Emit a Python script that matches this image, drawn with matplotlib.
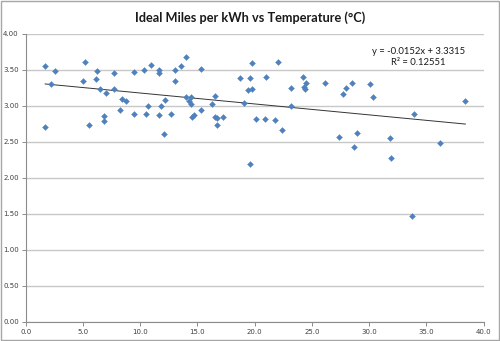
import matplotlib
matplotlib.use("Agg")
import matplotlib.pyplot as plt
from matplotlib.patches import Rectangle
import numpy as np

# temperature (deg C) and ideal miles per kWh for each trip
temps = [1.7, 2.6, 2.2, 1.7, 5.2, 5.0, 5.5, 6.2, 6.1, 6.5, 7.0, 6.8, 6.8,
         7.7, 7.7, 8.4, 8.8, 8.2, 9.5, 9.5, 10.3, 10.9, 11.6, 11.6, 10.5,
         10.7, 11.6, 11.8, 12.2, 12.1, 12.7, 13.0, 13.0, 13.6, 14.0, 14.0,
         14.4, 14.3, 14.4, 14.5, 14.7, 15.3, 15.3, 16.5, 16.3, 16.5, 16.7,
         16.7, 17.2, 18.7, 19.6, 19.8, 19.4, 19.8, 19.1, 20.1, 19.6, 22.0,
         21.0, 20.9, 21.8, 22.4, 23.2, 23.2, 24.2, 24.5, 24.3, 24.4, 26.1,
         27.7, 28.0, 28.5, 30.1, 30.3, 27.4, 28.9, 28.7, 31.8, 31.9, 33.9,
         36.2, 38.4, 33.7]
miles_per_kwh = [3.55, 3.48, 3.30, 2.71, 3.61, 3.34, 2.73, 3.49, 3.37, 3.24,
                 3.18, 2.86, 2.79, 3.46, 3.24, 3.10, 3.07, 2.95, 3.47, 2.89,
                 3.50, 3.57, 3.50, 3.46, 2.89, 3.00, 2.87, 3.00, 3.08, 2.61,
                 2.89, 3.50, 3.35, 3.56, 3.68, 3.13, 3.13, 3.07, 3.02, 2.85,
                 2.87, 2.94, 3.51, 3.14, 3.02, 2.85, 2.83, 2.73, 2.85, 3.39,
                 3.39, 3.59, 3.22, 3.23, 3.04, 2.82, 2.19, 3.61, 3.40, 2.82,
                 2.80, 2.66, 3.25, 3.00, 3.40, 3.32, 3.26, 3.24, 3.32, 3.17,
                 3.25, 3.32, 3.31, 3.13, 2.57, 2.63, 2.43, 2.56, 2.28, 2.89,
                 2.48, 3.07, 1.47]

# linear trendline coefficients
slope = -0.0152
intercept = 3.3315
r_squared = 0.12551

blue = "#4F81BD"
grid_grey = "#C8C8C8"
axis_grey = "#8C8C8C"

fig = plt.figure(figsize=(5.0, 3.41), dpi=100)
fig.patches.append(Rectangle((0.001, 0.002), 0.997, 0.995, transform=fig.transFigure,
                             fill=False, edgecolor="#A6A6A6", linewidth=1.0))

ax = fig.add_axes([0.0514, 0.0566, 0.916, 0.8437])

ax.plot(temps, miles_per_kwh, linestyle="none", marker="D", markersize=3.0,
        color=blue, markeredgecolor=blue, markeredgewidth=0.3, zorder=3)

tx = np.array([min(temps), max(temps)])
ax.plot(tx, slope * tx + intercept, color="#333333", linewidth=0.7, zorder=2)

ax.set_xlim(0, 40)
ax.set_ylim(0, 4)
ax.set_xticks(np.arange(0, 40.1, 5))
ax.set_yticks(np.arange(0, 4.01, 0.5))
ax.set_xticklabels([f"{v:.1f}" for v in np.arange(0, 40.1, 5)])
ax.set_yticklabels([f"{v:.2f}" for v in np.arange(0, 4.01, 0.5)])

ax.yaxis.grid(True, color=grid_grey, linewidth=1.0)
ax.set_axisbelow(True)
for side in ("top", "right"):
    ax.spines[side].set_visible(False)
for side in ("left", "bottom"):
    ax.spines[side].set_color(axis_grey)
    ax.spines[side].set_linewidth(0.8)
ax.tick_params(axis="both", labelsize=5, colors="#404040", length=3,
               width=0.7, pad=2)
ax.tick_params(axis="both", color=axis_grey)

fig.text(0.5, 0.948, "Ideal Miles per kWh vs Temperature (°C)", ha="center",
         va="center", fontsize=9.2, fontweight="bold", family="Lato",
         color="#1A1A1A")

ax.text(0.858, 0.92, f"y = {slope:.4f}x + {intercept:.4f}\nR² = {r_squared:.5f}",
        transform=ax.transAxes, ha="center", va="center", fontsize=6.8,
        family="Lato", color="#1A1A1A", linespacing=1.15)

fig.savefig("out.png", dpi=100)
